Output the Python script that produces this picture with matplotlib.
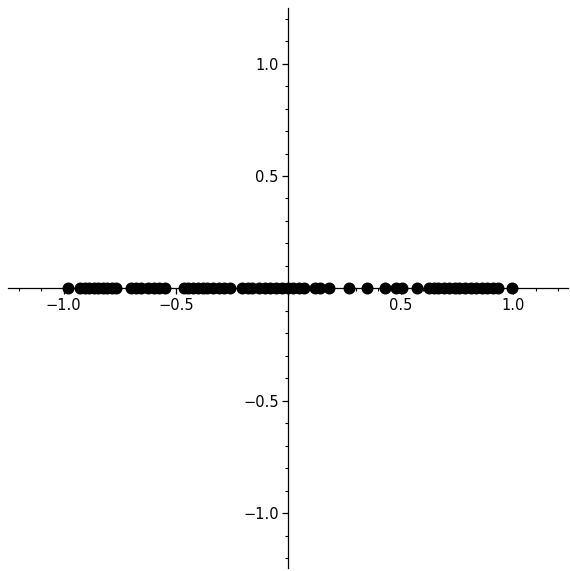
import matplotlib
matplotlib.use("Agg")
import matplotlib.pyplot as plt
from matplotlib.ticker import MultipleLocator, FuncFormatter

xs = [-0.98,
      -0.925, -0.905, -0.885, -0.865, -0.845, -0.825, -0.805, -0.785, -0.765,
      -0.70, -0.68, -0.655, -0.625, -0.60, -0.575, -0.55,
      -0.465, -0.445, -0.425, -0.40, -0.38, -0.36, -0.335, -0.31, -0.285, -0.26,
      -0.205, -0.18, -0.16, -0.13, -0.105, -0.08, -0.055, -0.03,
      0.0, 0.02, 0.045, 0.07,
      0.12, 0.14, 0.18,
      0.27, 0.35, 0.43, 0.48, 0.505, 0.57,
      0.625, 0.645, 0.665, 0.69, 0.715, 0.74, 0.76, 0.785, 0.81, 0.835,
      0.86, 0.885, 0.91, 0.93,
      0.995]
ys = [0.0] * len(xs)

fig = plt.figure(figsize=(5.70, 5.71), dpi=100)
ax = fig.add_axes([8/570, 3/571, 560/570, 560/571])
ax.scatter(xs, ys, s=58, color='black', zorder=3, clip_on=False)

ax.set_xlim(-1.247, 1.243)
ax.set_ylim(-1.243, 1.247)
ax.spines['left'].set_position(('data', 0))
ax.spines['bottom'].set_position(('data', 0))
ax.spines['top'].set_visible(False)
ax.spines['right'].set_visible(False)
for s in ('left', 'bottom'):
    ax.spines[s].set_linewidth(0.9)

ax.xaxis.set_major_locator(MultipleLocator(0.5))
ax.yaxis.set_major_locator(MultipleLocator(0.5))
ax.xaxis.set_minor_locator(MultipleLocator(0.1))
ax.yaxis.set_minor_locator(MultipleLocator(0.1))

def fmt(v, pos):
    if abs(v) < 1e-9:
        return ''
    return ('%.1f' % v).replace('-', '\u2212')

ax.xaxis.set_major_formatter(FuncFormatter(fmt))
ax.yaxis.set_major_formatter(FuncFormatter(fmt))
ax.tick_params(which='major', length=4, width=0.9, labelsize=10.5, direction='out', pad=3)
ax.tick_params(which='minor', length=2.5, width=0.8, direction='out')
ax.patch.set_visible(False)

fig.savefig('out.png', dpi=100)
